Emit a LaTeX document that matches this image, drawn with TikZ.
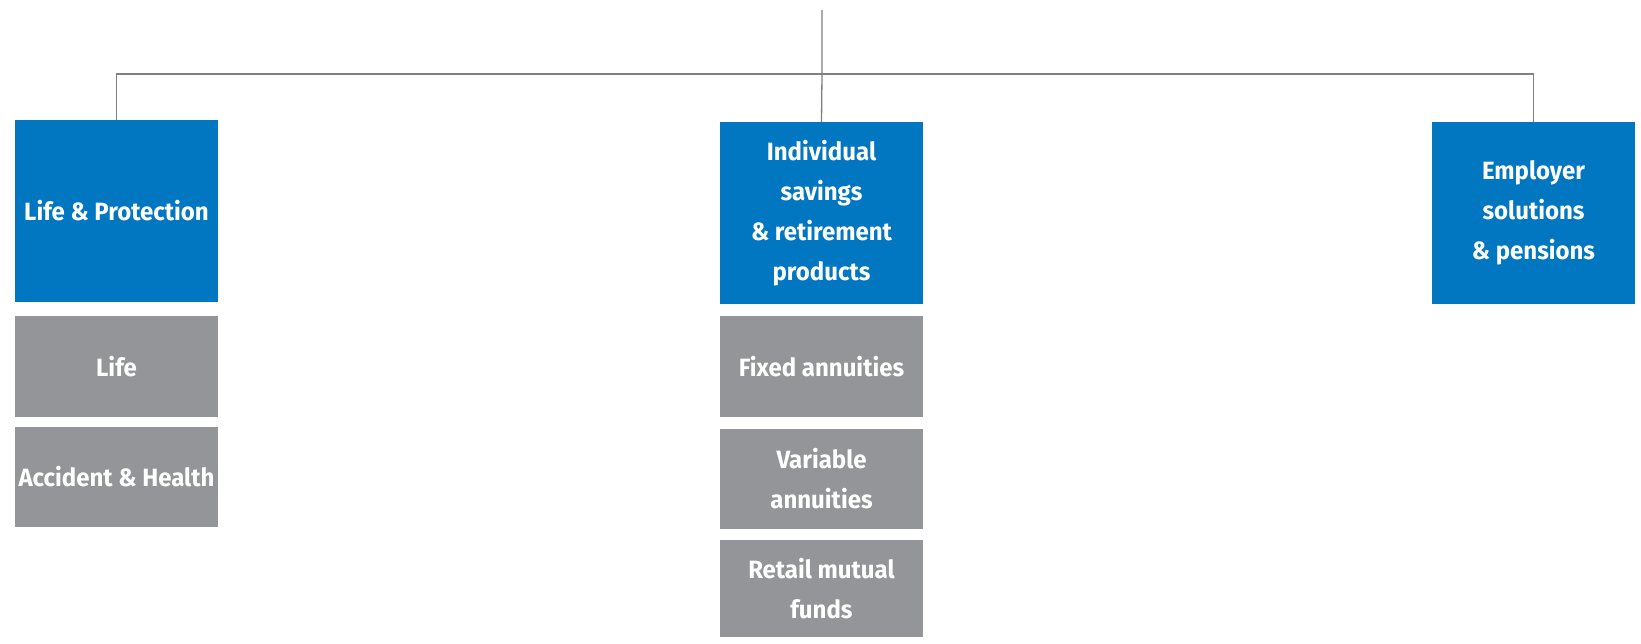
\documentclass[tikz,border=0pt]{standalone}
\usepackage{fontspec}
\setmainfont{Fira Sans}[FakeStretch=0.96]
\definecolor{boxblue}{RGB}{0,119,192}
\definecolor{boxgray}{RGB}{147,149,152}
\definecolor{linegray}{RGB}{128,128,128}
\begin{document}
\begin{tikzpicture}[x=1pt,y=-1pt,
  base/.style={rectangle,inner sep=0pt,minimum width=203pt,text=white,align=center,
    font=\fontsize{25}{40}\selectfont\bfseries},
  bluebox/.style={base,fill=boxblue,minimum height=182pt},
  graybox/.style={base,fill=boxgray},
  conn/.style={draw=linegray,line width=1.3pt}]
\useasboundingbox (0,0) rectangle (1641,643);
\node[bluebox] (lp) at (116.5,211) {Life \& Protection};
\node[bluebox] (isr) at (821.5,213) {Individual\\savings\\\& retirement\\products};
\node[bluebox] (esp) at (1533.5,213) {Employer\\solutions\\\& pensions};
\node[graybox,minimum height=101pt] (life) at (116.5,366.5) {Life};
\node[graybox,minimum height=100pt] (ah) at (116.5,477) {Accident \& Health};
\node[graybox,minimum height=101pt] (fa) at (821.5,366.5) {Fixed annuities};
\node[graybox,minimum height=100pt] (va) at (821.5,479) {Variable\\annuities};
\node[graybox,minimum height=97pt] (rmf) at (821.5,588.5) {Retail mutual\\funds};
\coordinate (top) at (822,10);
\coordinate (bar) at (822,74);
\draw[conn] (top) -- (bar) -- (isr.north);
\draw[conn] (lp.north) |- (bar);
\draw[conn] (bar) -| (esp.north);
\end{tikzpicture}
\end{document}
